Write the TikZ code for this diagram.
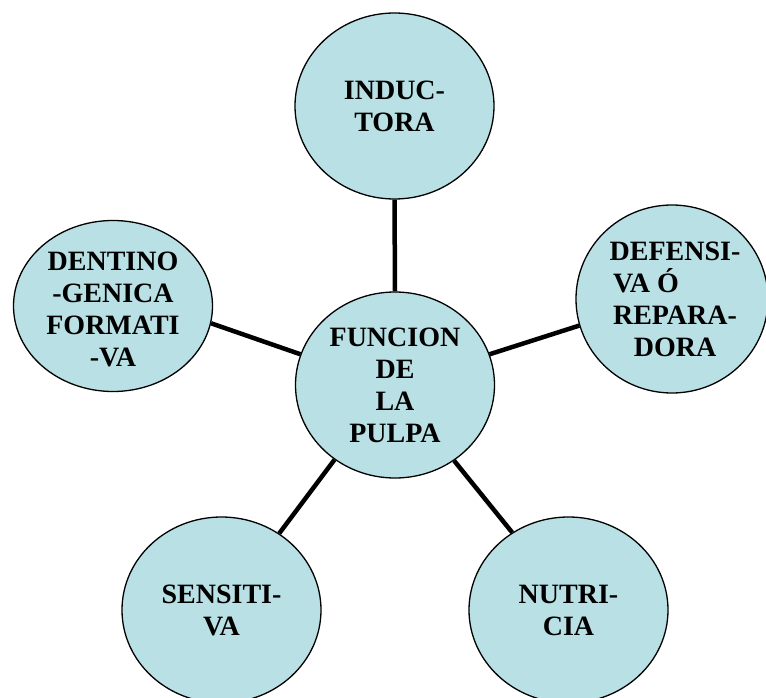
\documentclass[tikz,border=0pt]{standalone}
\usepackage{fontspec}
\setmainfont{Liberation Serif}
\usetikzlibrary{shapes.geometric}
\definecolor{bubble}{RGB}{185,224,228}
\tikzset{
  bub/.style={ellipse, draw=black, line width=1.3pt, fill=bubble, inner sep=0pt,
              minimum width=199pt, minimum height=186pt},
  txt/.style={align=center, inner sep=0pt, font=\fontsize{28}{32}\selectfont\bfseries},
  link/.style={line width=4.5pt}
}
\begin{document}
\begin{tikzpicture}[x=1pt,y=-1pt]
\useasboundingbox (0,0) rectangle (766,698);
\node[bub] (c)  at (395,385) {};
\node[bub] (t)  at (394.5,106) {};
\node[bub, minimum height=171pt] (l) at (113,306) {};
\node[bub, minimum width=192pt, minimum height=188pt] (r) at (672,299) {};
\node[bub] (bl) at (221.5,610) {};
\node[bub] (br) at (568.5,610) {};
\draw[link] (c.90) -- (t.-90);
\draw[link] (c.162.5) -- (l.-10);
\draw[link] (c.18) -- (r.196);
\draw[link] (c.231.5) -- (bl.53.7);
\draw[link] (c.-52) -- (br.126);
\node[txt] at (c) {FUNCION\\DE\\LA\\PULPA};
\node[txt] at (t) {INDUC-\\TORA};
\node[txt] at ([yshift=-3pt]l.center) {DENTINO\\-GENICA\\FORMATI\\-VA};
\node[txt] at ([xshift=3pt]r.center) {DEFENSI-\\VA Ó\makebox[58pt]{}\\REPARA-\\DORA};
\node[txt] at (bl) {SENSITI-\\VA};
\node[txt] at (br) {NUTRI-\\CIA};
\end{tikzpicture}
\end{document}
